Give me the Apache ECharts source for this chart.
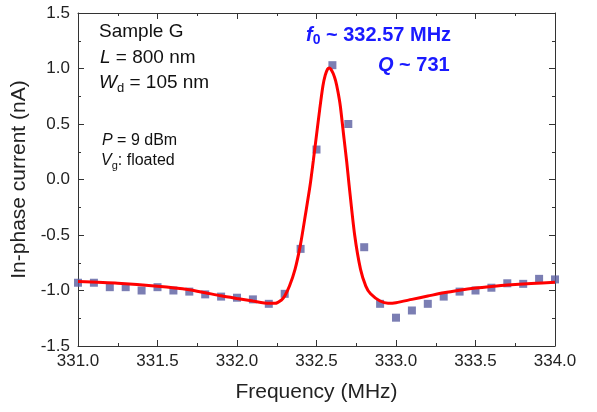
<!DOCTYPE html>
<html>
<head>
<meta charset="utf-8">
<script src="https://cdn.jsdelivr.net/npm/echarts@6/dist/echarts.min.js"></script>
<style>
html,body{margin:0;padding:0;background:#fff;}
#chart{width:597px;height:412px;}
</style>
</head>
<body>
<div id="chart"></div>
<script>
// Measured data (square markers)
const freq = [331.0,331.1,331.2,331.3,331.4,331.5,331.6,331.7,331.8,331.9,332.0,332.1,332.2,332.3,332.4,332.5,332.6,332.7,332.8,332.9,333.0,333.1,333.2,333.3,333.4,333.5,333.6,333.7,333.8,333.9,334.0];
const current = [-0.93,-0.93,-0.97,-0.97,-1.00,-0.97,-1.00,-1.01,-1.035,-1.055,-1.065,-1.08,-1.12,-1.03,-0.625,0.27,1.03,0.50,-0.61,-1.12,-1.245,-1.18,-1.12,-1.055,-1.01,-1.00,-0.975,-0.935,-0.94,-0.895,-0.90];
// Fit curve (red line)
const fitFreq = [331.0,331.25,331.5,331.7,331.8,331.9,332.0,332.1,332.2,332.24,332.28,332.3,332.33,332.365,332.4,332.43,332.46,332.48,332.5,332.52,332.54,332.555,332.57,332.58,332.59,332.605,332.62,332.635,332.65,332.673,332.69,332.705,332.74,332.777,332.81,332.84,332.9,332.95,333.0,333.1,333.2,333.3,333.4,333.5,333.6,333.7,333.85,334.0];
const fitCurrent = [-0.92,-0.935,-0.962,-0.993,-1.02,-1.048,-1.072,-1.095,-1.115,-1.115,-1.085,-1.05,-0.96,-0.81,-0.58,-0.32,-0.05,0.17,0.40,0.63,0.84,0.94,0.995,1.005,0.995,0.955,0.89,0.79,0.66,0.37,0.16,-0.05,-0.50,-0.81,-0.96,-1.03,-1.095,-1.115,-1.11,-1.08,-1.05,-1.02,-0.997,-0.978,-0.963,-0.95,-0.937,-0.925];
// Tick labels
const xTicks = ['331.0','331.5','332.0','332.5','333.0','333.5','334.0'];
const yTicks = ['-1.5','-1.0','-0.5','0.0','0.5','1.0','1.5'];

const FONT = '"Liberation Sans", Arial, sans-serif';
const axisCol = '#333';
const chart = echarts.init(document.getElementById('chart'));

function xFmt(v){ const i = Math.round((v-331)/0.5); return xTicks[i] !== undefined ? xTicks[i] : ''; }
function yFmt(v){ const i = Math.round((v+1.5)/0.5); return yTicks[i] !== undefined ? yTicks[i] : ''; }

const baseAxis = {
  type:'value',
  axisLine:{show:true, onZero:false, lineStyle:{color:axisCol, width:1}},
  axisTick:{show:true, inside:true, length:6, lineStyle:{color:axisCol}},
  minorTick:{show:true, splitNumber:2, length:3, lineStyle:{color:axisCol}},
  splitLine:{show:false},
  minorSplitLine:{show:false}
};

chart.setOption({
  animation:false,
  backgroundColor:'#fff',
  grid:{left:78, right:42, top:13, bottom:66},
  xAxis:[
    Object.assign({}, baseAxis, {
      min:331, max:334, interval:0.5, position:'bottom',
      axisLabel:{formatter:xFmt, color:'#222', fontSize:17, fontFamily:FONT, margin:7},
      name:'Frequency (MHz)', nameLocation:'middle', nameGap:36,
      nameTextStyle:{fontSize:21, color:'#222', fontFamily:FONT}
    }),
    Object.assign({}, baseAxis, {
      min:331, max:334, interval:0.5, position:'top',
      axisLabel:{show:false}
    })
  ],
  yAxis:[
    Object.assign({}, baseAxis, {
      min:-1.5, max:1.5, interval:0.5, position:'left',
      axisLabel:{formatter:yFmt, color:'#222', fontSize:17, fontFamily:FONT, margin:8},
      name:'In-phase current (nA)', nameLocation:'middle', nameGap:40,
      nameTextStyle:{fontSize:21, color:'#222', fontFamily:FONT}
    }),
    Object.assign({}, baseAxis, {
      min:-1.5, max:1.5, interval:0.5, position:'right',
      axisLabel:{show:false}
    })
  ],
  series:[
    {
      type:'scatter', xAxisIndex:0, yAxisIndex:0,
      data: freq.map((f,i)=>[f,current[i]]),
      symbol:'rect', symbolSize:8, clip:false,
      itemStyle:{color:'#5a5ea0'},
      z:2
    },
    {
      type:'line', xAxisIndex:0, yAxisIndex:0,
      data: fitFreq.map((f,i)=>[f,fitCurrent[i]]),
      showSymbol:false, smooth:0.25,
      lineStyle:{color:'#ff0000', width:3},
      z:3
    }
  ],
  graphic:[
    {type:'text', x:99, y:32, style:{text:'Sample G', font:'19px '+FONT, fill:'#111', verticalAlign:'middle'}},
    {type:'text', x:100, y:58, style:{
      text:'{i|L}{n| = 800 nm}', fill:'#111', verticalAlign:'middle',
      rich:{i:{fontSize:19, fontStyle:'italic', fontFamily:FONT, fill:'#111'}, n:{fontSize:19, fontFamily:FONT, fill:'#111'}}}},
    {type:'text', x:99, y:83, style:{
      text:'{i|W}{s|d}{n| = 105 nm}', fill:'#111', verticalAlign:'middle',
      rich:{i:{fontSize:19, fontStyle:'italic', fontFamily:FONT, fill:'#111'}, s:{fontSize:13, fontFamily:FONT, fill:'#111', padding:[10,0,0,0]}, n:{fontSize:19, fontFamily:FONT, fill:'#111'}}}},
    {type:'text', x:102, y:141, style:{
      text:'{i|P}{n| = 9 dBm}', fill:'#111', verticalAlign:'middle',
      rich:{i:{fontSize:16, fontStyle:'italic', fontFamily:FONT, fill:'#111'}, n:{fontSize:16, fontFamily:FONT, fill:'#111'}}}},
    {type:'text', x:101, y:161, style:{
      text:'{i|V}{s|g}{n|: floated}', fill:'#111', verticalAlign:'middle',
      rich:{i:{fontSize:16, fontStyle:'italic', fontFamily:FONT, fill:'#111'}, s:{fontSize:11, fontFamily:FONT, fill:'#111', padding:[9,0,0,0]}, n:{fontSize:16, fontFamily:FONT, fill:'#111'}}}},
    {type:'text', x:306, y:35, style:{
      text:'{i|f}{s|0}{n| ~ 332.57 MHz}', verticalAlign:'middle',
      rich:{i:{fontSize:20, fontStyle:'italic', fontWeight:'bold', fontFamily:FONT, fill:'#1a1aff'}, s:{fontSize:14, fontWeight:'bold', fontFamily:FONT, fill:'#1a1aff', padding:[10,0,0,0]}, n:{fontSize:20, fontWeight:'bold', fontFamily:FONT, fill:'#1a1aff'}}}},
    {type:'text', x:378, y:65, style:{
      text:'{i|Q}{n| ~ 731}', verticalAlign:'middle',
      rich:{i:{fontSize:20, fontStyle:'italic', fontWeight:'bold', fontFamily:FONT, fill:'#1a1aff'}, n:{fontSize:20, fontWeight:'bold', fontFamily:FONT, fill:'#1a1aff'}}}}
  ]
});
</script>
</body>
</html>
